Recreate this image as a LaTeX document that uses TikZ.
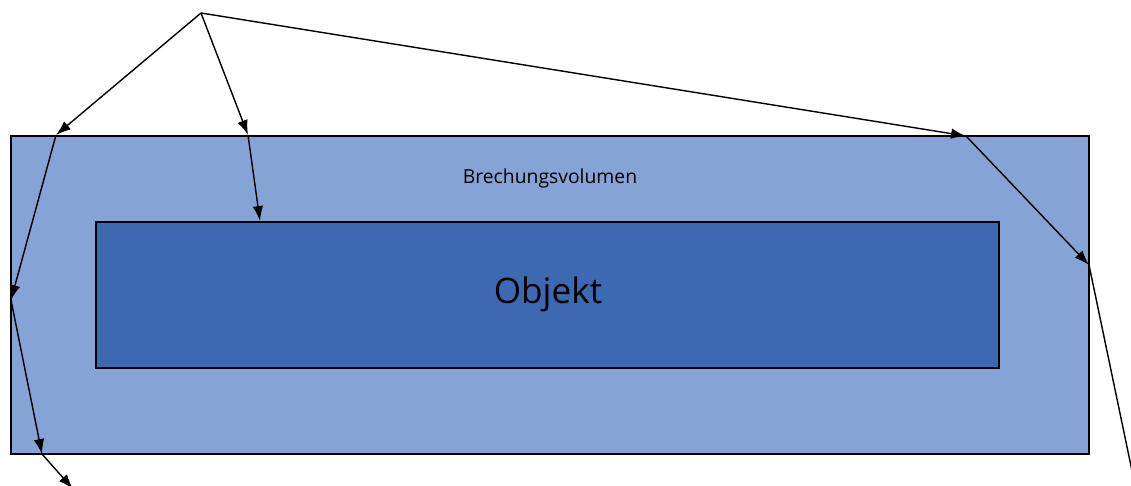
\documentclass[tikz,border=0pt]{standalone}
\usepackage{fontspec}
\setmainfont{Open Sans}
\usetikzlibrary{arrows.meta}

\definecolor{volblue}{HTML}{85A3D5}
\definecolor{objblue}{HTML}{3C69B2}

\begin{document}
\begin{tikzpicture}[x=0.02cm, y=-0.02cm,
    ray/.style={line width=0.8pt, -{Latex[length=8.5pt, width=6pt]}},
    every node/.style={inner sep=0pt, outer sep=0pt}]
    \useasboundingbox (0,0) rectangle (1131,486);
    \clip (0,0) rectangle (1131,486);

    % Volumes
    \node[draw, line width=0.8pt, fill=volblue, minimum width=21.56cm, minimum height=6.36cm] (vol) at (550,295) {};
    \node[draw, line width=0.8pt, fill=objblue, minimum width=18.06cm, minimum height=2.92cm] (obj) at (547.5,295) {};
    \node[font=\fontsize{11}{13}\selectfont] (vollabel) at (550,178) {Brechungsvolumen};
    \node[font=\fontsize{20}{24}\selectfont] (objlabel) at (548,294) {Objekt};

    % Source and hit points
    \coordinate (src) at (201,13);
    \coordinate (a1) at (56,135);
    \coordinate (a2) at (11,300);
    \coordinate (a3) at (42,454);
    \coordinate (a4) at (73,489);
    \coordinate (b1) at (248,135);
    \coordinate (b2) at (260,221);
    \coordinate (c1) at (966,136);
    \coordinate (c2) at (1089,265);
    \coordinate (c3) at (1136,490);

    % Rays
    \draw[ray] (src) -- (a1);
    \draw[ray] (a1) -- (a2);
    \draw[ray] (a2) -- (a3);
    \draw[ray] (a3) -- (a4);
    \draw[ray] (src) -- (b1);
    \draw[ray] (b1) -- (b2);
    \draw[ray] (src) -- (c1);
    \draw[ray] (c1) -- (c2);
    \draw[line width=0.8pt] (c2) -- (c3);
\end{tikzpicture}
\end{document}
